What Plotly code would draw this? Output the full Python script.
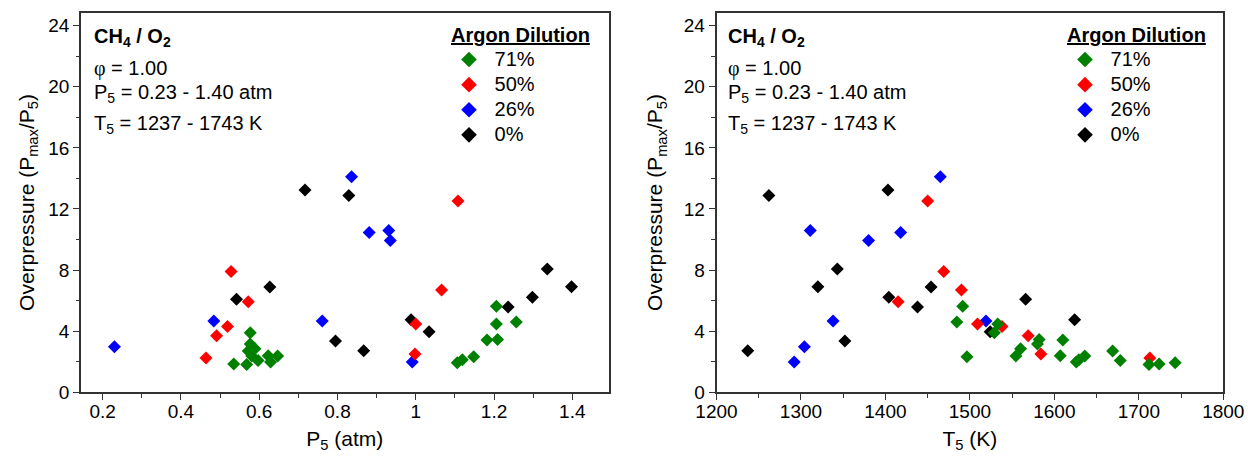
import plotly.graph_objects as go

# ---------------- data ----------------
series_names = ["0%", "26%", "50%", "71%"]
series_colors = ["#000000", "#0000FF", "#FF0000", "#008000"]

p5_0 = [0.542, 0.627, 0.717, 0.795, 0.829, 0.867, 0.988, 1.034, 1.236, 1.298, 1.336, 1.398]
t5_0 = [1566, 1454, 1403, 1352, 1262, 1237, 1624, 1524, 1438, 1404, 1343, 1320]
op_0 = [6.09, 6.89, 13.24, 3.36, 12.89, 2.72, 4.75, 3.97, 5.58, 6.22, 8.07, 6.91]

p5_26 = [0.23, 0.484, 0.761, 0.836, 0.881, 0.931, 0.935, 0.991]
t5_26 = [1304, 1338, 1519, 1465, 1418, 1311, 1380, 1292]
op_26 = [2.98, 4.67, 4.67, 14.11, 10.46, 10.6, 9.94, 1.98]

p5_50 = [0.464, 0.491, 0.519, 0.528, 0.572, 0.998, 1.0, 1.066, 1.108]
t5_50 = [1713, 1569, 1538, 1469, 1415, 1584, 1509, 1490, 1450]
op_50 = [2.25, 3.71, 4.31, 7.91, 5.93, 2.5, 4.47, 6.7, 12.52]

p5_71 = [1.206, 1.257, 1.206, 0.577, 1.209, 1.182, 0.577, 0.572, 0.589, 0.581,
         0.623, 1.148, 0.647, 1.119, 0.597, 0.629, 1.106, 0.535, 0.568]
t5_71 = [1491.5, 1484.5, 1533, 1529, 1582, 1610, 1580, 1669, 1560, 1636,
         1607, 1496.5, 1554.5, 1629, 1678, 1626, 1743, 1724, 1712]
op_71 = [5.63, 4.6, 4.47, 3.9, 3.46, 3.43, 3.16, 2.7, 2.85, 2.38,
         2.4, 2.32, 2.38, 2.13, 2.08, 1.99, 1.94, 1.85, 1.82]

p5_all = [p5_0, p5_26, p5_50, p5_71]
t5_all = [t5_0, t5_26, t5_50, t5_71]
op_all = [op_0, op_26, op_50, op_71]

info_lines = ["<b>CH<sub>4</sub> / O<sub>2</sub></b>",
              "<span style='font-family:Liberation Serif'>φ</span> = 1.00",
              "P<sub>5</sub> = 0.23 - 1.40 atm",
              "T<sub>5</sub> = 1237 - 1743 K"]
legend_title = "Argon Dilution"
ytitle = "Overpressure (P<sub>max</sub>/P<sub>5</sub>)"
xtitle_left = "P<sub>5</sub> (atm)"
xtitle_right = "T<sub>5</sub> (K)"

# ---------------- figure ----------------
W, H = 1248, 458
FONT = "Arial, Liberation Sans, sans-serif"
AX = "#333333"

fig = go.Figure()
for i in range(4):
    fig.add_trace(go.Scatter(
        x=p5_all[i], y=op_all[i], mode="markers", xaxis="x", yaxis="y",
        name="<span style='font-size:20px'>&nbsp;%s</span>" % series_names[i],
        legend="legend",
        marker=dict(symbol="diamond", size=10, color=series_colors[i], line=dict(width=0))))
for i in range(4):
    fig.add_trace(go.Scatter(
        x=t5_all[i], y=op_all[i], mode="markers", xaxis="x2", yaxis="y2",
        name="<span style='font-size:20px'>&nbsp;%s</span>" % series_names[i],
        legend="legend2",
        marker=dict(symbol="diamond", size=10, color=series_colors[i], line=dict(width=0))))

# plot-area pixel geometry
top_px, bot_px = 12.7, 392.3
L1, R1 = 81.0, 608.5
L2, R2 = 716.5, 1223.3
ydom = [(H - bot_px) / H, (H - top_px) / H]
xdom1 = [L1 / W, R1 / W]
xdom2 = [L2 / W, R2 / W]

yrange = [0, 24.85]
x1range = [0.1446, 1.4925]
x2range = [1200, 1800]

tickfont = dict(family=FONT, size=19, color="#000")
titlefont = dict(family=FONT, size=21, color="#000")

def xaxis(dom, rng, dtick, tick0, minor_dtick, title, anchor):
    return dict(domain=dom, range=rng, autorange=False, anchor=anchor,
                showline=True, linecolor=AX, linewidth=1.5, mirror=True,
                ticks="outside", ticklen=6, tickwidth=1.3, tickcolor=AX,
                dtick=dtick, tick0=tick0, tickfont=tickfont, ticklabelstandoff=-5,
                minor=dict(dtick=minor_dtick, tick0=tick0, ticks="outside", ticklen=3.5,
                           tickwidth=1.3, tickcolor=AX, showgrid=False),
                showgrid=False, zeroline=False, automargin=False,
                title=dict(text=title, font=titlefont, standoff=10))

def yaxis(dom, title, anchor, standoff):
    return dict(domain=dom, range=yrange, autorange=False, anchor=anchor,
                showline=True, linecolor=AX, linewidth=1.5, mirror=True,
                ticks="outside", ticklen=6, tickwidth=1.3, tickcolor=AX,
                dtick=4, tick0=0, tickfont=tickfont,
                minor=dict(dtick=2, tick0=0, ticks="outside", ticklen=3.5,
                           tickwidth=1.3, tickcolor=AX, showgrid=False),
                showgrid=False, zeroline=False, automargin=False,
                title=dict(text=title, font=titlefont, standoff=standoff))

def x_over(base, rng, dtick, tick0, minor_dtick, anchor):
    return dict(overlaying=base, side="top", anchor=anchor, range=rng, autorange=False,
                showline=False, showticklabels=False, showgrid=False, zeroline=False,
                ticks="inside", ticklen=6, tickwidth=1.3, tickcolor=AX, dtick=dtick, tick0=tick0,
                minor=dict(dtick=minor_dtick, tick0=tick0, ticks="inside", ticklen=3.5,
                           tickwidth=1.3, tickcolor=AX, showgrid=False))

def y_over(base, anchor):
    return dict(overlaying=base, side="right", anchor=anchor, range=yrange, autorange=False,
                showline=False, showticklabels=False, showgrid=False, zeroline=False,
                ticks="inside", ticklen=6, tickwidth=1.3, tickcolor=AX, dtick=4, tick0=0,
                minor=dict(dtick=2, tick0=0, ticks="inside", ticklen=3.5,
                           tickwidth=1.3, tickcolor=AX, showgrid=False))

legend_common = dict(
    xanchor="right", yanchor="top", bgcolor="rgba(0,0,0,0)",
    font=dict(family=FONT, size=17, color="#000"),
    title=dict(text=legend_title, side="top",
               font=dict(family=FONT, size=20, color="#000", weight="bold", lineposition="under")),
    traceorder="reversed", itemsizing="constant")

fig.update_layout(
    width=W, height=H, margin=dict(l=0, r=0, t=0, b=0),
    paper_bgcolor="white", plot_bgcolor="white",
    font=dict(family=FONT, color="#000"),
    showlegend=True,
    xaxis=xaxis(xdom1, x1range, 0.2, 0.2, 0.1, xtitle_left, "y"),
    yaxis=yaxis(ydom, ytitle, "x", 8),
    xaxis2=xaxis(xdom2, x2range, 100, 1200, 50, xtitle_right, "y2"),
    yaxis2=yaxis(ydom, ytitle, "x2", 15),
    xaxis3=x_over("x", x1range, 0.2, 0.2, 0.1, "y"),
    yaxis3=y_over("y", "x"),
    xaxis4=x_over("x2", x2range, 100, 1200, 50, "y2"),
    yaxis4=y_over("y2", "x2"),
    legend=dict(legend_common, x=592 / W, y=1 - 16 / H),
    legend2=dict(legend_common, x=1208 / W, y=1 - 16 / H),
)

# info text annotations
line_y_px = [38, 68, 93.5, 124]
for (xr, yr, L, R, off) in [("x domain", "y domain", L1, R1, 10.5), ("x2 domain", "y2 domain", L2, R2, 9.5)]:
    for txt, ypx in zip(info_lines, line_y_px):
        fig.add_annotation(text=txt, xref=xr, yref=yr,
                           x=off / (R - L), y=(bot_px - ypx) / (bot_px - top_px),
                           xanchor="left", yanchor="middle", showarrow=False,
                           font=dict(family=FONT, size=20, color="#000"))

fig.write_html("out.html", config={"displayModeBar": False},
               post_script="document.body.style.margin='0';")
